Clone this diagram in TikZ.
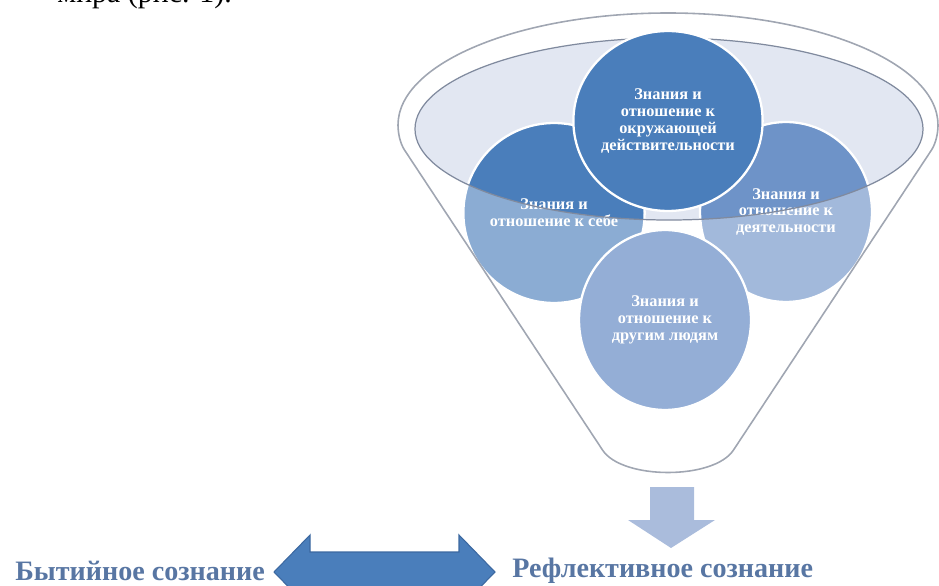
\documentclass[tikz,border=0pt]{standalone}
\usepackage{fontspec}
\setmainfont{Liberation Serif}
\usetikzlibrary{shapes.geometric}
\definecolor{darkblue}{RGB}{74,126,187}
\definecolor{midblue}{RGB}{110,147,200}
\definecolor{lightblue}{RGB}{148,174,214}
\definecolor{rimfill}{RGB}{226,231,242}
\definecolor{rimline}{RGB}{128,138,158}
\definecolor{funline}{RGB}{160,166,178}
\definecolor{arrowlight}{RGB}{170,188,220}
\definecolor{arrowedge}{RGB}{60,104,160}
\definecolor{labelblue}{RGB}{88,118,163}
\begin{document}
\begin{tikzpicture}[x=0.02cm,y=0.02cm,
  circ/.style={ellipse, minimum width=3.44cm, minimum height=3.6cm, inner sep=0pt,
    draw=white, line width=1.3pt, align=center, text=white,
    font=\bfseries\fontsize{9.3}{9.6}\selectfont},
  lbl/.style={anchor=base west, text=labelblue, inner sep=0pt,
    font=\bfseries\fontsize{16}{19}\selectfont}]
\useasboundingbox (0,0) rectangle (939,585);
\clip (0,0) rectangle (939,585);
% inner rim fill
\fill[rimfill] (669,456) ellipse [x radius=254, y radius=91];
% side circles
\node[circ, fill=darkblue] (lc) at (554,372) {Знания и\\отношение к себе};
\node[circ, fill=midblue] (rc) at (786,373) {Знания и\\отношение к\\деятельности};
% translucent funnel body
\begin{scope}
\clip (398,460) arc[start angle=180,end angle=0,x radius=270,y radius=112]
  .. controls (938,452) and (936,442) .. (931.5,435) -- (733.5,135)
  .. controls (714,105) and (622,105) .. (602.5,135) -- (404.5,435)
  .. controls (400,442) and (398,452) .. (398,460) -- cycle;
\fill[white, fill opacity=0.36, even odd rule] (0,0) rectangle (939,585)
  (669,456) ellipse [x radius=254, y radius=91];
\end{scope}
% inner rim outline
\draw[rimline, line width=0.7pt] (669,456) ellipse [x radius=254, y radius=91];
% front circles
\node[circ, fill=lightblue] (bc) at (665,265) {Знания и\\отношение к\\другим людям};
\node[circ, fill=darkblue] (tc) at (668,464) {Знания и\\отношение к\\окружающей\\действительности};
% funnel outline
\draw[funline, line width=0.9pt] (398,460) arc[start angle=180,end angle=0,x radius=270,y radius=112]
  .. controls (938,452) and (936,442) .. (931.5,435) -- (733.5,135)
  .. controls (714,105) and (622,105) .. (602.5,135) -- (404.5,435)
  .. controls (400,442) and (398,452) .. (398,460) -- cycle;
% down arrow
\fill[arrowlight] (650,98) -- (694,98) -- (694,65) -- (715,65) -- (671,37) -- (628,65) -- (650,65) -- cycle;
% double arrow
\draw[fill=darkblue, draw=arrowedge, line width=0.6pt] (274,13) -- (310,50) -- (310,33) -- (459,33)
  -- (459,50) -- (495,13) -- (459,-24) -- (459,-7) -- (310,-7) -- (310,-24) -- cycle;
% labels
\node[lbl] (bs) at (15,5) {Бытийное сознание};
\node[lbl] (rs) at (512,8) {Рефлективное сознание};
% cut caption at top
\node[anchor=base west, inner sep=0pt, font=\fontsize{17}{20}\selectfont] (cap) at (57,582) {мира (рис. 1).};
\end{tikzpicture}
\end{document}
